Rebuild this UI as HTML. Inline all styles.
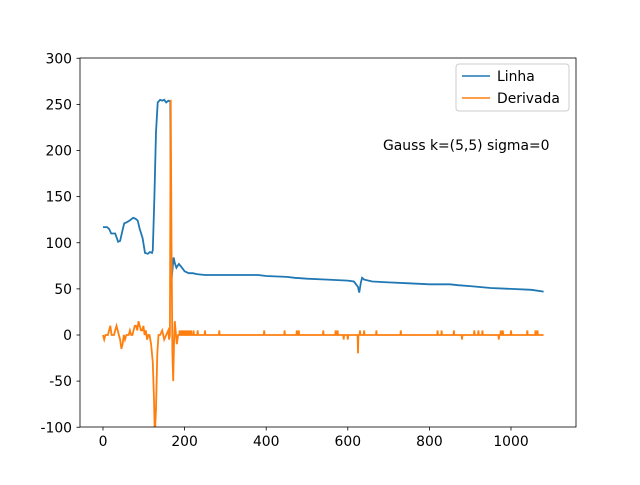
<!DOCTYPE html>
<html><head><meta charset="utf-8"><style>
body{margin:0;background:#fff}
svg{font-family:"DejaVu Sans","Liberation Sans",sans-serif}
</style></head><body>
<svg id="chart" width="640" height="480">
<rect width="640" height="480" fill="#fff"/>
<g id="plot"></g>
<rect x="80" y="58" width="496" height="369" fill="none" stroke="#000" stroke-width="0.8"/>
<g id="ticks"></g>
<g>
<rect x="456" y="64" width="113" height="47" rx="3" fill="#fff" fill-opacity="0.8" stroke="#ccc"/>
<line x1="462" y1="76" x2="490" y2="76" stroke="#1f77b4" stroke-width="1.5"/>
<text x="497" y="81" font-size="13.9">Linha</text>
<line x1="462" y1="98" x2="490" y2="98" stroke="#ff7f0e" stroke-width="1.5"/>
<text x="497" y="103" font-size="13.9">Derivada</text>
</g>
<text x="383" y="150" font-size="13.9">Gauss k=(5,5) sigma=0</text>
</svg>
<script>
const xTicks=[0,200,400,600,800,1000];
const yTicks=[-100,-50,0,50,100,150,200,250,300];
const lineX=[0,10,15,20,30,37,42,47,52,57,65,74,80,85,90,97,103,110,115,120,122,126,130,134,140,145,150,155,160,165,167,170,173,176,180,186,190,195,200,210,220,230,250,270,290,350,380,400,450,470,500,550,600,615,620,625,628,632,635,640,660,700,750,800,850,870,900,950,1000,1050,1080];
const lineY=[117,117,115,110,110,101,102,112,121,122,124,127,126,124,115,105,89,88,90,89,92,150,220,252,255,254,255,252,254,253,55,70,84,78,73,77,75,72,69,67,67,66,65,65,65,65,65,64,63,62,61,60,59,58,55,52,46,57,62,60,58,57,56,55,55,54,53,51,50,49,47];
const derivX=[0,3,6,12,15,18,21,27,30,33,36,39,42,45,48,51,54,57,63,66,69,72,75,78,81,84,87,90,93,96,99,102,105,108,111,114,118,122,125,127,130,133,136,140,145,150,155,160,162,164,166,168,170,172,174,176,178,181,184,1080];
const derivY=[0,-5,0,0,5,10,0,0,5,10,5,0,-5,-15,-10,0,-5,0,0,5,0,0,5,10,10,5,15,10,5,5,10,0,5,-5,0,0,-10,-30,-70,-110,-80,-20,0,0,5,-5,0,5,-5,0,255,100,-20,-50,-10,15,5,-10,0,0];
const spikeX=[188,192,196,200,204,208,212,216,222,232,250,285,395,445,475,480,540,570,575,590,600,625,630,640,670,730,820,830,860,880,910,920,930,970,975,980,1000,1040,1060,1065];
const spikeY=[5,5,5,5,5,5,5,5,5,5,5,5,5,5,5,5,5,5,5,-5,-5,-20,5,5,5,5,5,5,5,-5,5,5,5,-5,5,5,5,5,5,5];
const X=v=>103+v*0.408, Y=v=>335-v*0.9225;
const NS="http://www.w3.org/2000/svg";
const plot=document.getElementById('plot'), tk=document.getElementById('ticks');
function mk(t,a,p){const e=document.createElementNS(NS,t);for(const k in a)e.setAttribute(k,a[k]);p.appendChild(e);return e;}
const cp=mk('clipPath',{id:'cp'},plot);mk('rect',{x:80,y:58,width:496,height:369},cp);
let pts=derivX.map((x,i)=>[x,derivY[i]]);
spikeX.forEach((x,i)=>{pts.push([x-1,0],[x,spikeY[i]],[x+1,0]);});
pts.sort((a,b)=>a[0]-b[0]);
const lp=mk('path',{d:'M'+lineX.map((x,i)=>X(x).toFixed(1)+','+Y(lineY[i]).toFixed(1)).join('L'),fill:'none',stroke:'#1f77b4','stroke-width':1.8,'clip-path':'url(#cp)'},plot);


const dp=mk('path',{d:'M'+pts.map(p=>X(p[0]).toFixed(1)+','+Y(p[1]).toFixed(1)).join('L'),fill:'none',stroke:'#ff7f0e','stroke-width':1.8,'clip-path':'url(#cp)'},plot);


xTicks.forEach(v=>{const x=X(v);
const l=mk('line',{x1:x,x2:x,y1:427,y2:430.5,stroke:'#000','stroke-width':0.8},tk);


const t=mk('text',{x:x,y:446,'font-size':13.9,'text-anchor':'middle'},tk);t.textContent=v;

});
yTicks.forEach(v=>{const y=Y(v);
const l=mk('line',{x1:76.5,x2:80,y1:y,y2:y,stroke:'#000','stroke-width':0.8},tk);


const t=mk('text',{x:72,y:y+5,'font-size':13.9,'text-anchor':'end'},tk);t.textContent=v;

});
</script>
</body></html>
